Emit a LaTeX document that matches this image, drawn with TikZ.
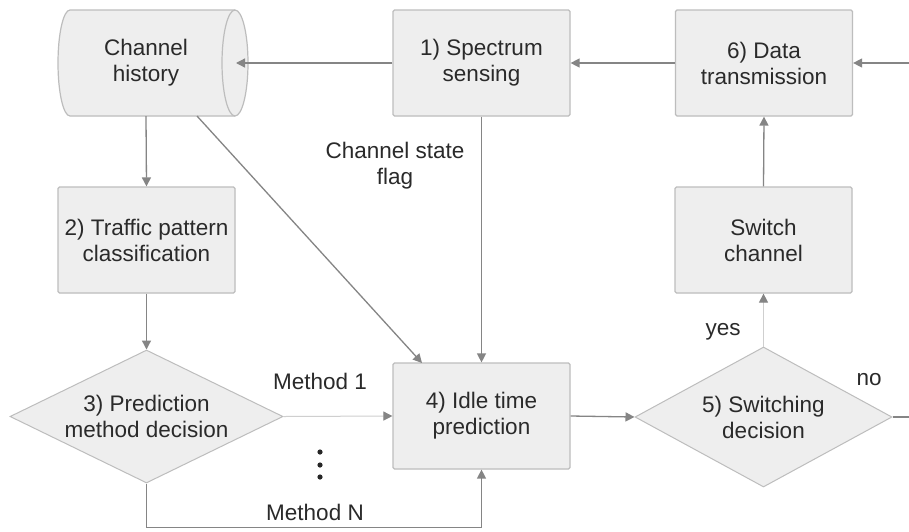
\documentclass[tikz,border=0pt]{standalone}
\usepackage{fontspec}
\setmainfont{Liberation Sans}
\usetikzlibrary{arrows.meta,shapes.geometric}
\definecolor{boxfill}{HTML}{EEEEEE}
\definecolor{boxline}{HTML}{BDBDBD}
\definecolor{arrline}{HTML}{858585}
\definecolor{lightline}{HTML}{CFCFCF}
\definecolor{txt}{HTML}{2A2A2A}
\begin{document}
\begin{tikzpicture}[x=1pt,y=-1pt,
  font=\fontsize{22.5}{26}\selectfont, text=txt,
  box/.style={draw=boxline, fill=boxfill, line width=1.2pt, rounded corners=1.5pt,
    minimum width=177pt, minimum height=106pt, align=center, inner sep=0pt},
  dec/.style={diamond, draw=boxline, fill=boxfill, line width=1pt, align=center, inner sep=0pt},
  arr/.style={draw=arrline, line width=1.3pt, -{Triangle[length=9pt,width=9pt]}},
  larr/.style={draw=lightline, line width=1pt, -{Triangle[length=9pt,width=9pt,color=arrline]}},
  lbl/.style={anchor=base, inner sep=0pt}]
\useasboundingbox (0,0) rectangle (909,531);
\fill[white] (0,0) rectangle (909,531);

% cylinder: channel history
\filldraw[draw=boxline, fill=boxfill, line width=1.2pt]
  (70,10) -- (235,10) arc[start angle=90,end angle=-90,x radius=13pt,y radius=53pt]
  -- (70,116) arc[start angle=270,end angle=90,x radius=12pt,y radius=53pt] -- cycle;
\draw[boxline, line width=1.2pt] (235,10) arc[start angle=90,end angle=270,x radius=13pt,y radius=53pt];
\node[minimum width=176pt, minimum height=106pt, align=center, inner sep=0pt] (ch) at (146,63) {Channel\\history};

\node[box] (spec) at (481.5,63) {1) Spectrum\\sensing};
\node[box] (data) at (764,63) {6) Data\\transmission};
\node[box] (traf) at (146.5,240) {2) Traffic pattern\\classification};
\node[box] (sw) at (763.5,240) {Switch\\channel};
\node[box] (idle) at (481.5,416) {4) Idle time\\prediction};
\node[dec, minimum width=273pt, minimum height=133pt, aspect=2.05] (d3) at (146.5,416.5) {3) Prediction\\method decision};
\node[dec, minimum width=257pt, minimum height=140pt, aspect=1.84] (d5) at (763.5,417) {5) Switching\\decision};

\coordinate (rin) at (909,63);
\coordinate (chin) at (236,63);
\coordinate (chd) at (197,116);
\coordinate (idlein) at (422,363);
\coordinate (rout) at (909,417);

\draw[arr] (rin) -- (data.east);
\draw[arr] (data.west) -- (spec.east);
\draw[arr] (spec.west) -- (chin);
\draw[arr] (ch.south) -- (traf.north);
\draw[arr] (chd) -- (idlein);
\draw[arr] (spec.south) -- (idle.north);
\draw[arr] (traf.south) -- (d3.north);
\draw[larr] (d3.east) -- (idle.west);
\draw[arr] (d3.south) -- ++(0,44) -| (idle.south);
\draw[arr] (idle.east) -- (d5.west);
\draw[larr] (d5.north) -- (sw.south);
\draw[arr] (sw.north) -- (data.south);
\draw[draw=arrline, line width=1.3pt] (d5.east) -- (rout);

\node[align=center, inner sep=0pt] (csf) at (395,166) {Channel state\\flag};
\node[lbl] (m1) at (320,389) {Method 1};
\node[lbl] (mn) at (315,520) {Method N};
\node[lbl] (yes) at (723,335) {yes};
\node[lbl] (no) at (869,385) {no};
\fill[black!85] (320,452) circle[radius=2.6pt] (320,465) circle[radius=2.6pt] (320,477) circle[radius=2.6pt];
\end{tikzpicture}
\end{document}
